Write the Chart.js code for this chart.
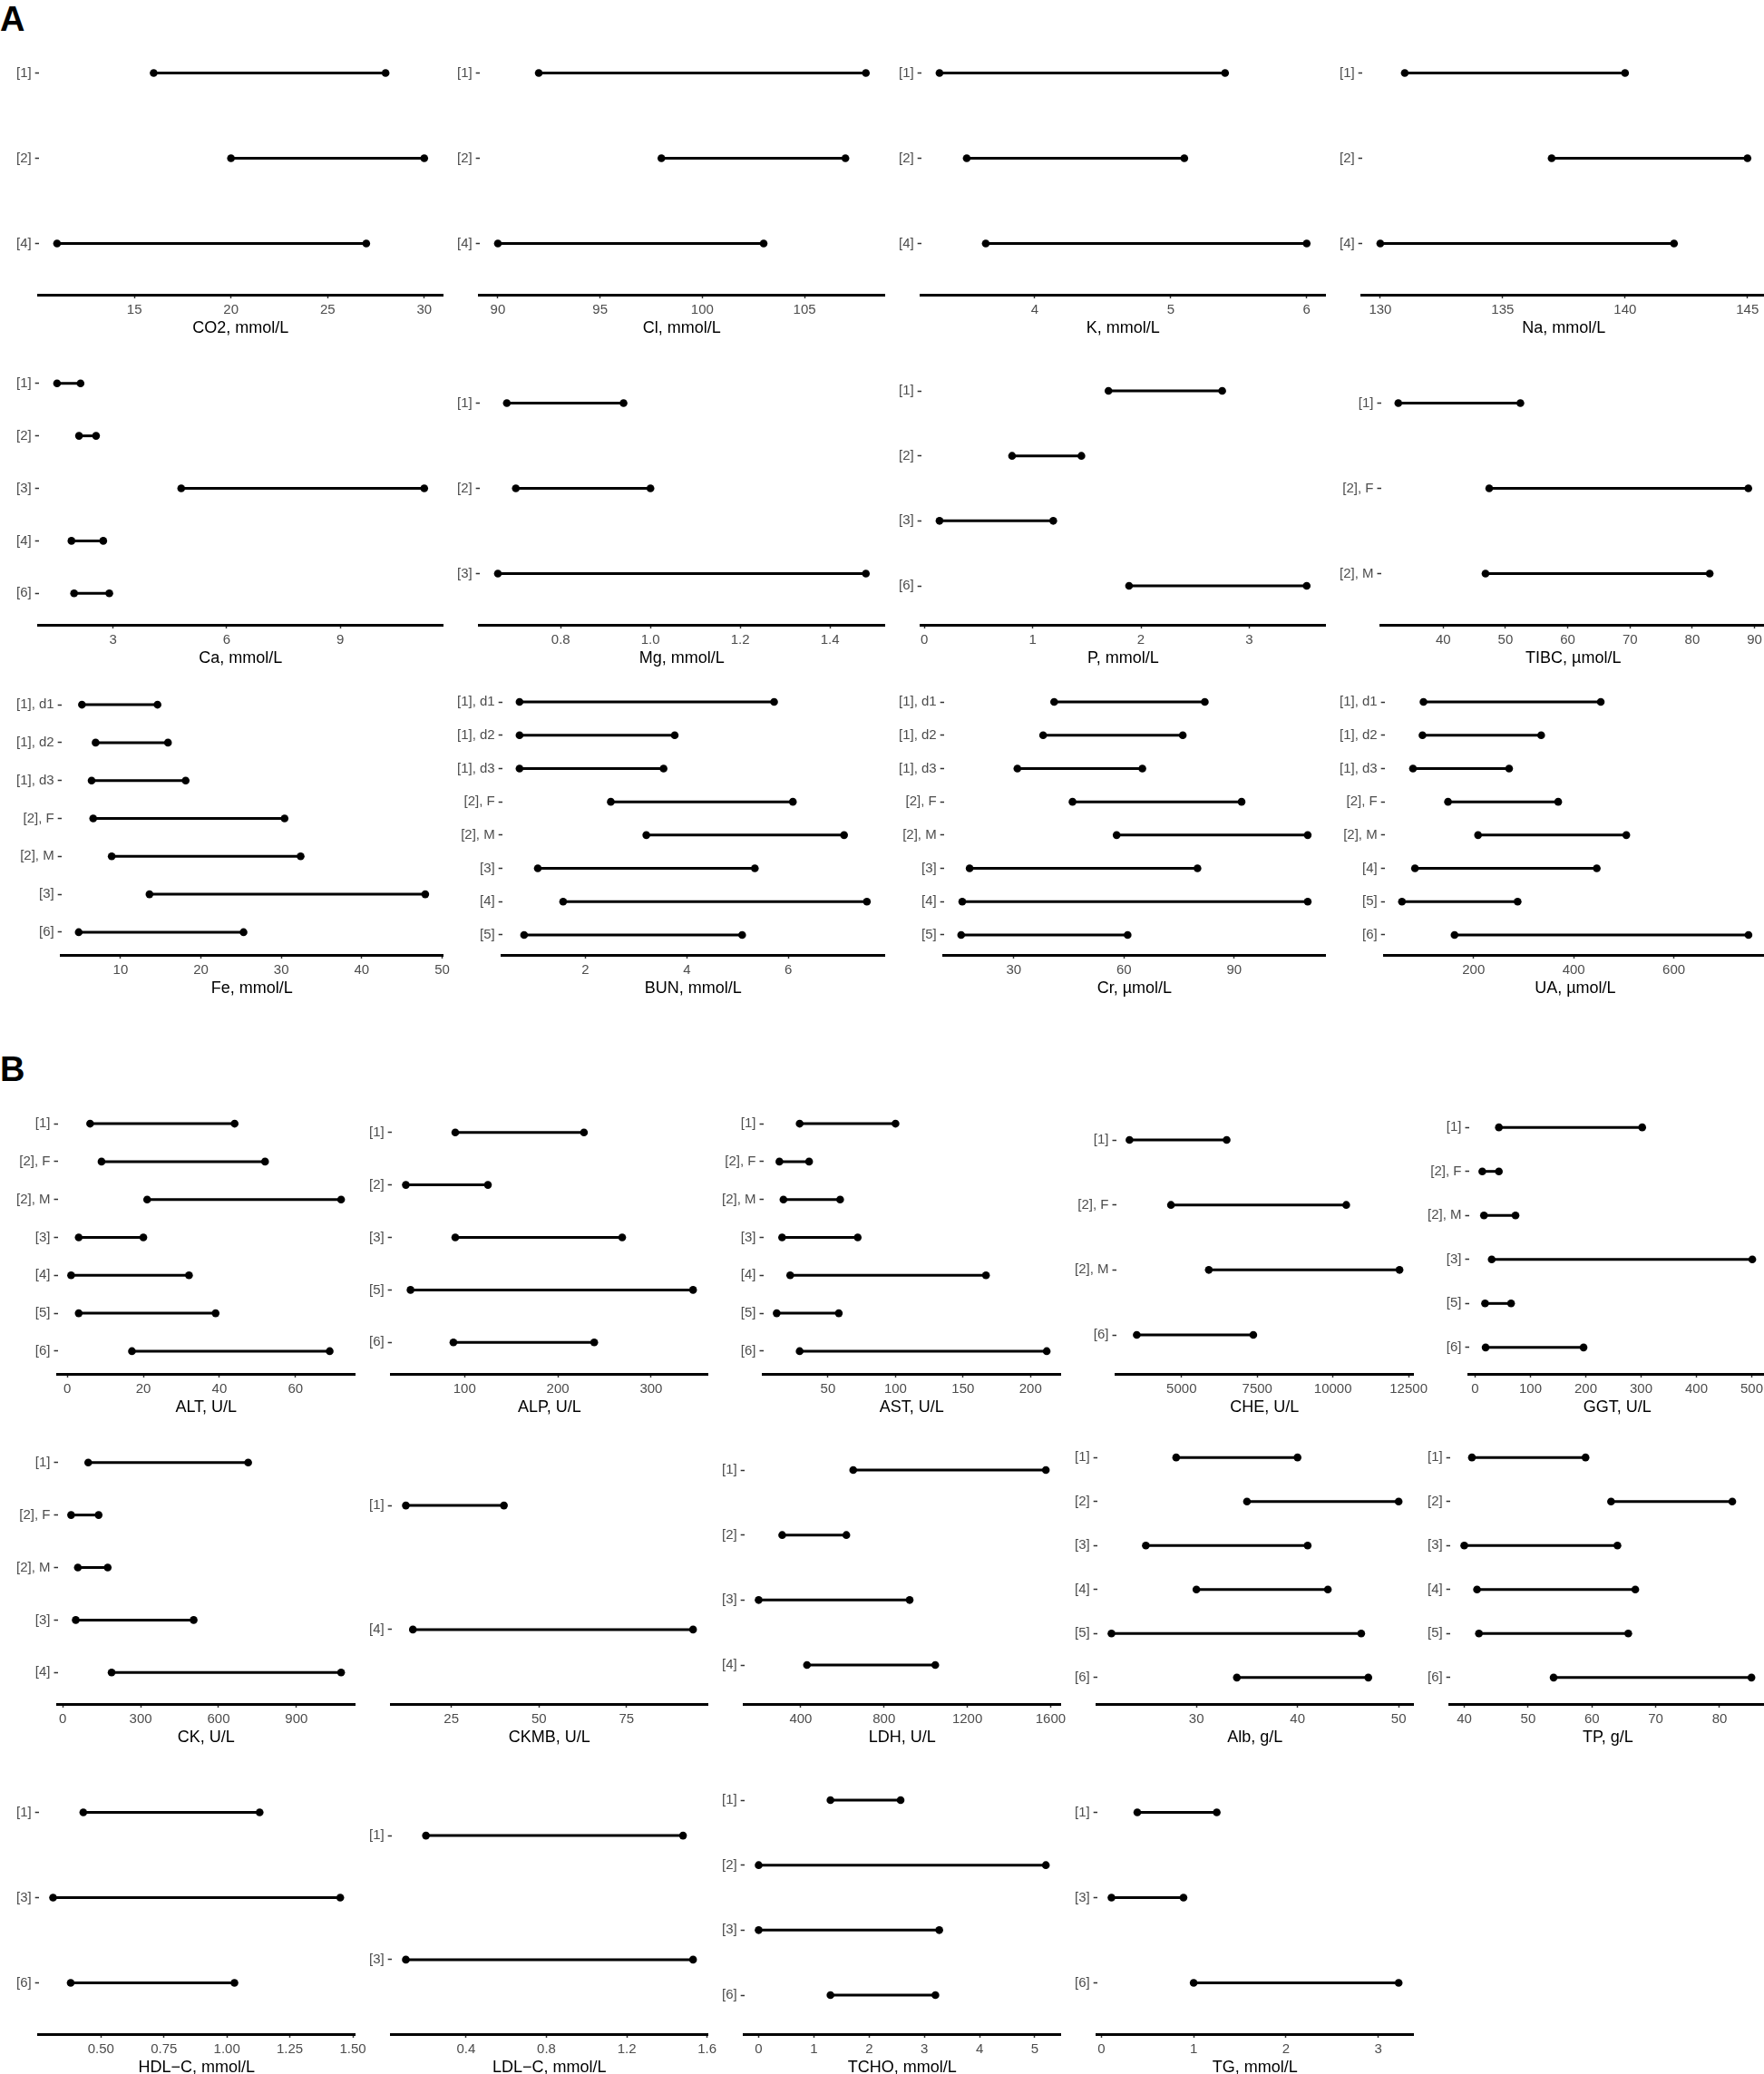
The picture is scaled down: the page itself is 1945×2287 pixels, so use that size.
<!DOCTYPE html>
<html>
<head>
<meta charset="utf-8">
<script src="https://cdn.jsdelivr.net/npm/chart.js@4.4.1/dist/chart.umd.min.js"></script>
<style>
  body { margin: 0; background: #fff; overflow: hidden; }
  #page { position: relative; width: 1945px; height: 2287px; background: #fff; overflow: hidden;
          font-family: "Liberation Sans", Arial, sans-serif; }
  .tag { position: absolute; left: 0; font-weight: bold; font-size: 38px; line-height: 38px; }
  canvas { position: absolute; }
</style>
</head>
<body>
<div id="page">
  <div class="tag" style="top:2px">A</div>
  <div class="tag" style="top:1160px">B</div>
</div>
<script>
// ---------- data: one block per panel (groups, lower limit, upper limit, x ticks) ----------

// A, row 1
const co2Groups = ['[1]', '[2]', '[4]'];
const co2Low = [16, 20, 11];
const co2High = [28, 30, 27];
const co2Ticks = ['15', '20', '25', '30'];

const clGroups = ['[1]', '[2]', '[4]'];
const clLow = [92, 98, 90];
const clHigh = [108, 107, 103];
const clTicks = ['90', '95', '100', '105'];

const kGroups = ['[1]', '[2]', '[4]'];
const kLow = [3.3, 3.5, 3.64];
const kHigh = [5.4, 5.1, 6.0];
const kTicks = ['4', '5', '6'];

const naGroups = ['[1]', '[2]', '[4]'];
const naLow = [131, 137, 130];
const naHigh = [140, 145, 142];
const naTicks = ['130', '135', '140', '145'];

// A, row 2
const caGroups = ['[1]', '[2]', '[3]', '[4]', '[6]'];
const caLow = [1.52, 2.1, 4.8, 1.9, 1.97];
const caHigh = [2.14, 2.55, 11.22, 2.74, 2.9];
const caTicks = ['3', '6', '9'];

const mgGroups = ['[1]', '[2]', '[3]'];
const mgLow = [0.68, 0.70, 0.66];
const mgHigh = [0.94, 1.00, 1.48];
const mgTicks = ['0.8', '1.0', '1.2', '1.4'];

const pGroups = ['[1]', '[2]', '[3]', '[6]'];
const pLow = [1.70, 0.81, 0.14, 1.89];
const pHigh = [2.75, 1.45, 1.19, 3.53];
const pTicks = ['0', '1', '2', '3'];

const tibcGroups = ['[1]', '[2], F', '[2], M'];
const tibcLow = [32.8, 47.4, 46.8];
const tibcHigh = [52.4, 89.0, 82.8];
const tibcTicks = ['40', '50', '60', '70', '80', '90'];

// A, row 3
const feGroups = ['[1], d1', '[1], d2', '[1], d3', '[2], F', '[2], M', '[3]', '[6]'];
const feLow = [5.2, 6.9, 6.4, 6.6, 8.9, 13.6, 4.8];
const feHigh = [14.6, 15.9, 18.1, 30.4, 32.4, 47.9, 25.3];
const feTicks = ['10', '20', '30', '40', '50'];

const bunGroups = ['[1], d1', '[1], d2', '[1], d3', '[2], F', '[2], M', '[3]', '[4]', '[5]'];
const bunLow = [0.70, 0.70, 0.70, 2.50, 3.20, 1.06, 1.56, 0.79];
const bunHigh = [5.72, 3.76, 3.54, 6.09, 7.10, 5.34, 7.55, 5.09];
const bunTicks = ['2', '4', '6'];

const crGroups = ['[1], d1', '[1], d2', '[1], d3', '[2], F', '[2], M', '[3]', '[4]', '[5]'];
const crLow = [41, 38, 31, 46, 58, 18, 16, 15.7];
const crHigh = [82, 76, 65, 92, 110, 80, 110, 61];
const crTicks = ['30', '60', '90'];

const uaGroups = ['[1], d1', '[1], d2', '[1], d3', '[2], F', '[2], M', '[4]', '[5]', '[6]'];
const uaLow = [100, 98, 79, 149, 209, 83, 57, 162];
const uaHigh = [454, 335, 271, 369, 505, 446, 288, 749];
const uaTicks = ['200', '400', '600'];

// B, row 1
const altGroups = ['[1]', '[2], F', '[2], M', '[3]', '[4]', '[5]', '[6]'];
const altLow = [6, 9, 21, 3, 1, 3, 17];
const altHigh = [44, 52, 72, 20, 32, 39, 69];
const altTicks = ['0', '20', '40', '60'];

const alpGroups = ['[1]', '[2]', '[3]', '[5]', '[6]'];
const alpLow = [90, 37, 90, 42, 88];
const alpHigh = [228, 125, 269, 345, 239];
const alpTicks = ['100', '200', '300'];

const astGroups = ['[1]', '[2], F', '[2], M', '[3]', '[4]', '[5]', '[6]'];
const astLow = [29, 14, 17, 16, 22, 12, 29];
const astHigh = [100, 36, 59, 72, 167, 58, 212];
const astTicks = ['50', '100', '150', '200'];

const cheGroups = ['[1]', '[2], F', '[2], M', '[6]'];
const cheLow = [3280, 4650, 5900, 3520];
const cheHigh = [6490, 10440, 12200, 7370];
const cheTicks = ['5000', '7500', '10000', '12500'];

const ggtGroups = ['[1]', '[2], F', '[2], M', '[3]', '[5]', '[6]'];
const ggtLow = [43, 13, 16, 30, 18, 19];
const ggtHigh = [302, 43, 73, 501, 65, 196];
const ggtTicks = ['0', '100', '200', '300', '400', '500'];

// B, row 2
const ckGroups = ['[1]', '[2], F', '[2], M', '[3]', '[4]'];
const ckLow = [98, 32, 58, 50, 188];
const ckHigh = [714, 138, 173, 504, 1072];
const ckTicks = ['0', '300', '600', '900'];

const ckmbGroups = ['[1]', '[4]'];
const ckmbLow = [12, 14];
const ckmbHigh = [40, 94];
const ckmbTicks = ['25', '50', '75'];

const ldhGroups = ['[1]', '[2]', '[3]', '[4]'];
const ldhLow = [652, 311, 198, 430];
const ldhHigh = [1577, 619, 923, 1046];
const ldhTicks = ['400', '800', '1200', '1600'];

const albGroups = ['[1]', '[2]', '[3]', '[4]', '[5]', '[6]'];
const albLow = [28, 35, 25, 30, 21.6, 34];
const albHigh = [40, 50, 41, 43, 46.3, 47];
const albTicks = ['30', '40', '50'];

const tpGroups = ['[1]', '[2]', '[3]', '[4]', '[5]', '[6]'];
const tpLow = [41.2, 63, 40, 42, 42.3, 54];
const tpHigh = [59, 82, 64, 66.8, 65.7, 85];
const tpTicks = ['40', '50', '60', '70', '80'];

// B, row 3
const hdlGroups = ['[1]', '[3]', '[6]'];
const hdlLow = [0.43, 0.31, 0.38];
const hdlHigh = [1.13, 1.45, 1.03];
const hdlTicks = ['0.50', '0.75', '1.00', '1.25', '1.50'];

const ldlGroups = ['[1]', '[3]'];
const ldlLow = [0.20, 0.10];
const ldlHigh = [1.48, 1.53];
const ldlTicks = ['0.4', '0.8', '1.2', '1.6'];

const tchoGroups = ['[1]', '[2]', '[3]', '[6]'];
const tchoLow = [1.3, 0, 0, 1.3];
const tchoHigh = [2.57, 5.2, 3.27, 3.2];
const tchoTicks = ['0', '1', '2', '3', '4', '5'];

const tgGroups = ['[1]', '[3]', '[6]'];
const tgLow = [0.39, 0.11, 1.0];
const tgHigh = [1.25, 0.89, 3.22];
const tgTicks = ['0', '1', '2', '3'];

// ---------- layout ----------
// [axis title, groups, low, high, ticks, grid ('A' = 4 cols, 'B' = 5 cols), row, col]
const panels = [
  ['CO2, mmol/L', co2Groups, co2Low, co2High, co2Ticks, 'A', 0, 0],
  ['Cl, mmol/L', clGroups, clLow, clHigh, clTicks, 'A', 0, 1],
  ['K, mmol/L', kGroups, kLow, kHigh, kTicks, 'A', 0, 2],
  ['Na, mmol/L', naGroups, naLow, naHigh, naTicks, 'A', 0, 3],
  ['Ca, mmol/L', caGroups, caLow, caHigh, caTicks, 'A', 1, 0],
  ['Mg, mmol/L', mgGroups, mgLow, mgHigh, mgTicks, 'A', 1, 1],
  ['P, mmol/L', pGroups, pLow, pHigh, pTicks, 'A', 1, 2],
  ['TIBC, µmol/L', tibcGroups, tibcLow, tibcHigh, tibcTicks, 'A', 1, 3],
  ['Fe, mmol/L', feGroups, feLow, feHigh, feTicks, 'A', 2, 0],
  ['BUN, mmol/L', bunGroups, bunLow, bunHigh, bunTicks, 'A', 2, 1],
  ['Cr, µmol/L', crGroups, crLow, crHigh, crTicks, 'A', 2, 2],
  ['UA, µmol/L', uaGroups, uaLow, uaHigh, uaTicks, 'A', 2, 3],
  ['ALT, U/L', altGroups, altLow, altHigh, altTicks, 'B', 3, 0],
  ['ALP, U/L', alpGroups, alpLow, alpHigh, alpTicks, 'B', 3, 1],
  ['AST, U/L', astGroups, astLow, astHigh, astTicks, 'B', 3, 2],
  ['CHE, U/L', cheGroups, cheLow, cheHigh, cheTicks, 'B', 3, 3],
  ['GGT, U/L', ggtGroups, ggtLow, ggtHigh, ggtTicks, 'B', 3, 4],
  ['CK, U/L', ckGroups, ckLow, ckHigh, ckTicks, 'B', 4, 0],
  ['CKMB, U/L', ckmbGroups, ckmbLow, ckmbHigh, ckmbTicks, 'B', 4, 1],
  ['LDH, U/L', ldhGroups, ldhLow, ldhHigh, ldhTicks, 'B', 4, 2],
  ['Alb, g/L', albGroups, albLow, albHigh, albTicks, 'B', 4, 3],
  ['TP, g/L', tpGroups, tpLow, tpHigh, tpTicks, 'B', 4, 4],
  ['HDL\u2212C, mmol/L', hdlGroups, hdlLow, hdlHigh, hdlTicks, 'B', 5, 0],
  ['LDL\u2212C, mmol/L', ldlGroups, ldlLow, ldlHigh, ldlTicks, 'B', 5, 1],
  ['TCHO, mmol/L', tchoGroups, tchoLow, tchoHigh, tchoTicks, 'B', 5, 2],
  ['TG, mmol/L', tgGroups, tgLow, tgHigh, tgTicks, 'B', 5, 3]
];

const plotTops = [24, 388, 752, 1214, 1578, 1942]; // top of each row's plotting area
const plotH = 301;
const padTop = 20;
const axisH = 48;
const extraRight = 20;

const page = document.getElementById('page');
const FONT = '"Liberation Sans", Arial, sans-serif';

function drawPanel(p) {
  const [title, groups, low, high, ticks, grid, row, col] = p;
  const colW = grid === 'A' ? 1945 / 4 : 1945 / 5;
  const left = Math.round(col * colW);
  const w = Math.round((col + 1) * colW) - left + extraRight;

  const cv = document.createElement('canvas');
  cv.width = w;
  cv.height = padTop + plotH + axisH;
  cv.style.left = left + 'px';
  cv.style.top = (plotTops[row] - padTop) + 'px';
  page.appendChild(cv);

  // ggplot-like 5% expansion of the x range
  const all = low.concat(high);
  const mn = Math.min(...all), mx = Math.max(...all);
  const ex = (mx - mn) * 0.05;

  new Chart(cv, {
    type: 'scatter',
    data: {
      datasets: groups.map((g, i) => ({
        label: g,
        data: [{ x: low[i], y: i }, { x: high[i], y: i }],
        showLine: true,
        borderColor: '#000',
        borderWidth: 3,
        pointRadius: 4.3,
        pointBorderWidth: 0,
        pointBackgroundColor: '#000',
        clip: false
      }))
    },
    options: {
      responsive: false,
      animation: false,
      events: [],
      layout: { padding: { top: padTop, bottom: 0, left: 14, right: extraRight - 2 } },
      plugins: { legend: { display: false }, tooltip: { enabled: false } },
      scales: {
        x: {
          type: 'linear',
          min: mn - ex,
          max: mx + ex,
          afterBuildTicks: s => { s.ticks = ticks.map(t => ({ value: parseFloat(t) })); },
          afterFit: s => { s.height = axisH; s.paddingLeft = 0; s.paddingRight = 0; },
          ticks: {
            autoSkip: false, maxRotation: 0, padding: 4,
            color: '#4d4d4d', font: { family: FONT, size: 15 },
            callback: (v, i) => ticks[i]
          },
          grid: { drawOnChartArea: false, drawTicks: true, tickLength: 4, tickColor: '#333', tickWidth: 1.5 },
          border: { display: true, color: '#000', width: 3 },
          title: { display: true, text: title, color: '#000', padding: 0, font: { family: FONT, size: 18 } }
        },
        y: {
          type: 'linear',
          reverse: true,
          min: -0.6,
          max: groups.length - 0.4,
          afterBuildTicks: s => { s.ticks = groups.map((g, i) => ({ value: i })); },
          afterFit: s => { s.paddingTop = 0; s.paddingBottom = 0; },
          ticks: {
            autoSkip: false, padding: 4,
            color: '#4d4d4d', font: { family: FONT, size: 15 },
            callback: v => groups[v]
          },
          grid: { drawOnChartArea: false, drawTicks: true, tickLength: 4, tickColor: '#333', tickWidth: 1.5 },
          border: { display: false }
        }
      }
    }
  });
}

panels.forEach(drawPanel);
</script>
</body>
</html>
